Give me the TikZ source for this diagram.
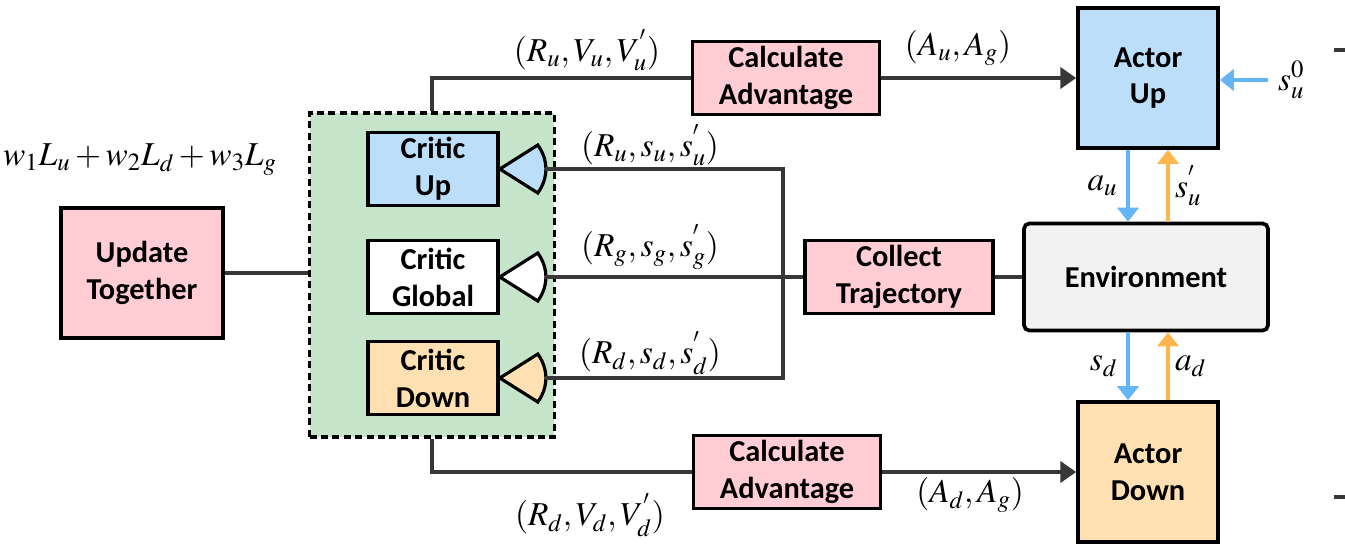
\documentclass[tikz,border=0pt]{standalone}
\usepackage{mathptmx}
\usepackage[no-math]{fontspec}
\setmainfont{Carlito}
\usetikzlibrary{arrows.meta}

\definecolor{pinkfill}{RGB}{255,205,211}
\definecolor{bluefill}{RGB}{189,222,248}
\definecolor{orangefill}{RGB}{255,224,178}
\definecolor{greenfill}{RGB}{198,228,201}
\definecolor{envfill}{RGB}{242,242,242}
\definecolor{linegray}{RGB}{55,55,55}
\definecolor{bluearr}{RGB}{100,181,246}
\definecolor{orangearr}{RGB}{255,183,77}

\tikzset{
  blk/.style={draw=black, line width=2.1pt, align=center, inner sep=0pt,
    font=\fontsize{17.3}{21}\selectfont\bfseries},
  grp/.style={draw=black, line width=1.8pt, dash pattern=on 4pt off 2.5pt, fill=greenfill},
  conn/.style={draw=linegray, line width=2pt},
  karrow/.style={conn, -{Triangle[length=9pt,width=12pt]}},
  barrow/.style={draw=bluearr, line width=2pt, -{Triangle[length=8pt,width=12pt]}},
  oarrow/.style={draw=orangearr, line width=2pt, -{Triangle[length=8pt,width=12pt]}},
  cone/.style={draw=black, line width=1.8pt},
  lbl/.style={font=\fontsize{19}{22}\selectfont, inner sep=1pt}
}

\begin{document}
\begin{tikzpicture}[x=0.02cm,y=-0.02cm]
\useasboundingbox (0,0) rectangle (1345,544);

% critics group
\node[grp, minimum width=4.9cm, minimum height=6.48cm] (grp) at (432,275) {};
\node[blk, fill=bluefill, minimum width=2.6cm, minimum height=1.46cm] (cu) at (433,169) {Critic\\Up};
\node[blk, fill=white, minimum width=2.6cm, minimum height=1.46cm] (cg) at (433,277) {Critic\\Global};
\node[blk, fill=orangefill, minimum width=2.6cm, minimum height=1.46cm] (cd) at (433,378) {Critic\\Down};
\foreach \c/\f in {cu/bluefill, cg/white, cd/orangefill} {
  \draw[cone, fill=\f] (\c.east) -- ++(38,-24) to[bend left=35] ++(0,48) -- cycle;
  \coordinate (\c t) at ([xshift=0.9cm]\c.east);
}

% boxes
\node[blk, fill=pinkfill, minimum width=3.24cm, minimum height=2.6cm] (upd) at (142,273) {Update\\Together};
\node[blk, fill=pinkfill, minimum width=3.74cm, minimum height=1.46cm] (calcu) at (786,78) {Calculate\\Advantage};
\node[blk, fill=pinkfill, minimum width=3.74cm, minimum height=1.46cm] (calcd) at (787,472) {Calculate\\Advantage};
\node[blk, fill=pinkfill, minimum width=3.76cm, minimum height=1.46cm] (coll) at (899,277) {Collect\\Trajectory};
\node[blk, fill=envfill, rounded corners=3pt, minimum width=4.88cm, minimum height=2.14cm] (env) at (1146,277) {Environment};
\node[blk, fill=bluefill, minimum width=2.8cm, minimum height=2.8cm] (actu) at (1148,78) {Actor\\Up};
\node[blk, fill=orangefill, minimum width=2.8cm, minimum height=2.8cm] (actd) at (1148,472) {Actor\\Down};

% connectors
\draw[conn] (upd.east) -- (upd.east -| grp.west);
\draw[conn] (grp.north) |- (calcu.west);
\draw[conn] (grp.south) |- (calcd.west);
\draw[karrow] (calcu) -- (actu);
\draw[karrow] (calcd) -- (actd);
\coordinate (jtop) at (783,169);
\coordinate (jbot) at (783,378);
\draw[conn] (cut) -- (jtop) -- (jbot) -- (cdt);
\draw[conn] (cgt) -- (coll);
\draw[conn, line width=2.8pt] (coll) -- (env);

% actor / environment
\draw[barrow] ([xshift=-0.4cm]actu.south) -- ([xshift=-0.4cm]actu.south |- env.north)
  node[lbl, midway, left=4pt] {$a_u$};
\draw[oarrow] ([xshift=0.4cm]actu.south |- env.north) -- ([xshift=0.4cm]actu.south)
  node[lbl, midway, right=2pt] {$s^{'}_u$};
\draw[barrow] ([xshift=-0.4cm]env.south -| actd.north) -- ([xshift=-0.4cm]actd.north)
  node[lbl, midway, left=4pt] {$s_d$};
\draw[oarrow] ([xshift=0.4cm]actd.north) -- ([xshift=0.4cm]env.south -| actd.north)
  node[lbl, midway, right=2pt] {$a_d$};
\coordinate (s0) at (1268,80);
\draw[barrow] (s0) -- (s0 -| actu.east);
\node[lbl, anchor=west] (s0l) at ([xshift=0.16cm]s0) {$s^0_u$};

% edge marks
\draw[conn] (1334,50) -- (1345,50);
\draw[conn] (1334,497) -- (1345,497);

% labels
\node[lbl] (lw) at (140,160) {$w_1L_u+w_2L_d+w_3L_g$};
\node[lbl] (lvu) at (587,50) {$(R_u,V_u,V^{'}_u)$};
\node[lbl] (lau) at (958,48) {$(A_u,A_g)$};
\node[lbl] (lsu) at (650,145) {$(R_u,s_u,s^{'}_u)$};
\node[lbl] (lsg) at (650,247) {$(R_g,s_g,s^{'}_g)$};
\node[lbl] (lsd) at (650,353) {$(R_d,s_d,s^{'}_d)$};
\node[lbl] (lvd) at (590,515) {$(R_d,V_d,V^{'}_d)$};
\node[lbl] (lad) at (970,495) {$(A_d,A_g)$};
\end{tikzpicture}
\end{document}
